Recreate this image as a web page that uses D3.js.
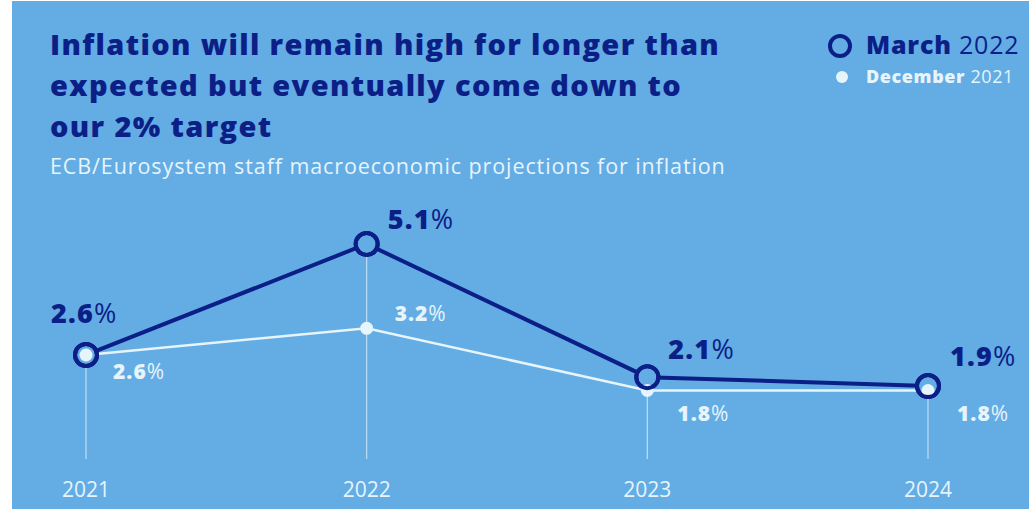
<!DOCTYPE html>
<html>
<head>
<meta charset="utf-8">
<script src="https://cdn.jsdelivr.net/npm/d3@7"></script>
<style>
  html, body { margin: 0; padding: 0; background: #fff; }
  svg { display: block; font-family: "Open Sans", "Noto Sans", sans-serif; }
</style>
</head>
<body>
<svg id="chart" width="1029" height="509"></svg>
<script>
// data
var years = ["2021", "2022", "2023", "2024"]
var march2022 = [2.6, 5.1, 2.1, 1.9]
var december2021 = [2.6, 3.2, 1.8, 1.8]
var titleLines = [
  "Inflation will remain high for longer than",
  "expected but eventually come down to",
  "our 2% target"
]
var subtitle = "ECB/Eurosystem staff macroeconomic projections for inflation"

var navy = "#0c1f87"
var light = "#e6f4fc"
var bg = "#63ace4"

var svg = d3.select("#chart")
svg.append("rect").attr("x", 12).attr("y", 1).attr("width", 1017).attr("height", 508).attr("fill", bg)

// title
svg.append("text")
  .attr("x", 50).attr("y", 55)
  .attr("fill", navy).attr("font-size", 29).attr("font-weight", 800)
  .attr("letter-spacing", 1.35)
  .selectAll("tspan").data(titleLines).join("tspan")
  .attr("x", 50).attr("dy", function(d, i) { return i ? 41 : 0 })
  .text(function(d) { return d })

svg.append("text")
  .attr("x", 50).attr("y", 174)
  .attr("fill", light).attr("font-size", 21.5).attr("letter-spacing", 0.9)
  .text(subtitle)

// legend
svg.append("circle").attr("cx", 840).attr("cy", 46).attr("r", 10)
  .attr("fill", "none").attr("stroke", navy).attr("stroke-width", 4)
var l1 = svg.append("text").attr("x", 866).attr("y", 54).attr("font-size", 25)
  .attr("letter-spacing", 0.8).attr("fill", navy)
l1.append("tspan").attr("font-weight", 800).text("March ")
l1.append("tspan").text("2022")
svg.append("circle").attr("cx", 842).attr("cy", 77).attr("r", 6).attr("fill", light)
var l2 = svg.append("text").attr("x", 866).attr("y", 83).attr("font-size", 18)
  .attr("letter-spacing", 0.6).attr("fill", light)
l2.append("tspan").attr("font-weight", 800).text("December ")
l2.append("tspan").text("2021")

// scales
var x = d3.scalePoint().domain(years).range([86, 928])
var y = d3.scaleLinear().domain([0, 5.1]).range([470.4, 244])

// vertical guides
svg.append("g").selectAll("line").data(years).join("line")
  .attr("x1", function(d) { return x(d) }).attr("x2", function(d) { return x(d) })
  .attr("y1", function(d, i) { return y(Math.max(march2022[i], december2021[i])) })
  .attr("y2", 459)
  .attr("stroke", "#d4ebf9").attr("stroke-opacity", 0.8).attr("stroke-width", 1.2)

// x axis labels
svg.append("g").selectAll("text").data(years).join("text")
  .attr("x", function(d) { return x(d) }).attr("y", 497)
  .attr("text-anchor", "middle").attr("font-size", 21).attr("fill", light)
  .text(function(d) { return d })

var line = d3.line()
  .x(function(d, i) { return x(years[i]) })
  .y(function(d) { return y(d) })

// December 2021 series
svg.append("path").datum(december2021)
  .attr("d", line).attr("fill", "none")
  .attr("stroke", light).attr("stroke-width", 2.5)

// March 2022 series
svg.append("path").datum(march2022)
  .attr("d", line).attr("fill", "none")
  .attr("stroke", navy).attr("stroke-width", 4)

svg.append("g").selectAll("circle").data(march2022).join("circle")
  .attr("cx", function(d, i) { return x(years[i]) })
  .attr("cy", function(d) { return y(d) })
  .attr("r", 11).attr("fill", bg)
  .attr("stroke", navy).attr("stroke-width", 4)

svg.append("g").selectAll("circle").data(december2021).join("circle")
  .attr("cx", function(d, i) { return x(years[i]) })
  .attr("cy", function(d) { return y(d) })
  .attr("r", 6.5).attr("fill", light)

// redraw rings on top where the dec dot overlaps
svg.append("g").selectAll("circle").data(march2022).join("circle")
  .attr("cx", function(d, i) { return x(years[i]) })
  .attr("cy", function(d) { return y(d) })
  .attr("r", 11).attr("fill", "none")
  .attr("stroke", navy).attr("stroke-width", 4)

// value labels
var marchOff = [[-35, -32], [21, -15], [21, -18], [22, -20]]
var decOff = [[27, 24], [28, -7], [30, 31], [29, 31]]

function pct(sel, v) {
  sel.append("tspan").attr("font-weight", 800).text(v.toFixed(1))
  sel.append("tspan").attr("font-weight", 400).text("%")
}

svg.append("g").selectAll("text").data(march2022).join("text")
  .attr("x", function(d, i) { return x(years[i]) + marchOff[i][0] })
  .attr("y", function(d) { return y(d) })
  .attr("dy", function(d, i) { return marchOff[i][1] })
  .attr("font-size", 27).attr("letter-spacing", 1.2).attr("fill", navy)
  .each(function(d) { pct(d3.select(this), d) })

svg.append("g").selectAll("text").data(december2021).join("text")
  .attr("x", function(d, i) { return x(years[i]) + decOff[i][0] })
  .attr("y", function(d) { return y(d) })
  .attr("dy", function(d, i) { return decOff[i][1] })
  .attr("font-size", 21).attr("letter-spacing", 1).attr("fill", light)
  .each(function(d) { pct(d3.select(this), d) })
</script>
</body>
</html>
